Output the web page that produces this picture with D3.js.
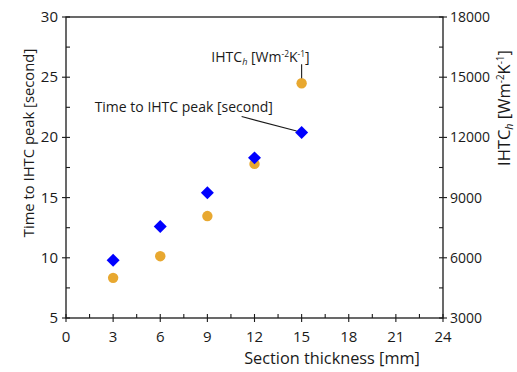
<!DOCTYPE html>
<html><head><meta charset="utf-8">
<script src="https://cdn.jsdelivr.net/npm/d3@7"></script>
<style>body{margin:0;background:#fff}svg{display:block}text{font-family:"Open Sans",sans-serif;fill:#1a1a1a}</style>
</head><body><svg id="c" width="517" height="372"></svg>
<script>
const thickness = [3, 6, 9, 12, 15];
const timeToPeak = [9.8, 12.6, 15.4, 18.3, 20.4];
const ihtcPeak = [5000, 6080, 8080, 10680, 14700];
const xTicks = [0, 3, 6, 9, 12, 15, 18, 21, 24];
const yLeftTicks = [5, 10, 15, 20, 25, 30];
const yRightTicks = [3000, 6000, 9000, 12000, 15000, 18000];

const svg = d3.select("#c");
const L = 66, R = 443, T = 17, B = 318;
const x = d3.scaleLinear().domain([0, 24]).range([L, R]);
const yL = d3.scaleLinear().domain([5, 30]).range([B, T]);
const yR = d3.scaleLinear().domain([3000, 18000]).range([B, T]);
const ink = "#1a1a1a";

// frame
svg.append("rect").attr("x", L).attr("y", T).attr("width", R - L).attr("height", B - T)
  .attr("fill", "none").attr("stroke", ink).attr("stroke-width", 1.3);

const g = svg.append("g").attr("stroke", ink).attr("stroke-width", 1.1);
// bottom ticks
xTicks.forEach(v => g.append("line").attr("x1", x(v)).attr("x2", x(v)).attr("y1", B - 4).attr("y2", B + 4));
d3.range(1.5, 24, 3).forEach(v => g.append("line").attr("x1", x(v)).attr("x2", x(v)).attr("y1", B - 4).attr("y2", B));
// left ticks
yLeftTicks.forEach(v => g.append("line").attr("x1", L - 4).attr("x2", L + 4).attr("y1", yL(v)).attr("y2", yL(v)));
d3.range(7.5, 30, 5).forEach(v => g.append("line").attr("x1", L).attr("x2", L + 4).attr("y1", yL(v)).attr("y2", yL(v)));
// right ticks
yRightTicks.forEach(v => g.append("line").attr("x1", R - 4).attr("x2", R + 4).attr("y1", yR(v)).attr("y2", yR(v)));
d3.range(4500, 18000, 3000).forEach(v => g.append("line").attr("x1", R - 4).attr("x2", R).attr("y1", yR(v)).attr("y2", yR(v)));

// tick labels
svg.append("g").selectAll("text").data(xTicks).join("text")
  .attr("x", d => x(d)).attr("y", B + 24).attr("text-anchor", "middle").attr("font-size", 15).text(d => d);
svg.append("g").selectAll("text").data(yLeftTicks).join("text")
  .attr("x", L - 8).attr("y", d => yL(d) + 5).attr("text-anchor", "end").attr("font-size", 15).text(d => d);
svg.append("g").selectAll("text").data(yRightTicks).join("text")
  .attr("x", R + 7).attr("y", d => yR(d) + 5).attr("text-anchor", "start").attr("font-size", 14).text(d => d);

// axis titles
svg.append("text").attr("x", 332).attr("y", 364).attr("text-anchor", "middle").attr("font-size", 16.3)
  .text("Section thickness [mm]");
svg.append("text").attr("transform", "translate(34,143) rotate(-90)").attr("text-anchor", "middle")
  .attr("font-size", 14.8).text("Time to IHTC peak [second]");

function ihtcLabel(sel, fs) {
  sel.append("tspan").text("IHTC");
  sel.append("tspan").attr("font-style", "italic").attr("font-size", fs * 0.65).attr("dy", fs * 0.2).text("h");
  sel.append("tspan").attr("dy", -fs * 0.2).text(" [Wm");
  sel.append("tspan").attr("font-size", fs * 0.6).attr("dy", -fs * 0.38).text("-2");
  sel.append("tspan").attr("dy", fs * 0.38).text("K");
  sel.append("tspan").attr("font-size", fs * 0.6).attr("dy", -fs * 0.38).text("-1");
  sel.append("tspan").attr("dy", fs * 0.38).text("]");
}
const rt = svg.append("text").attr("transform", "translate(510,108) rotate(-90)").attr("text-anchor", "middle").attr("font-size", 16.5);
ihtcLabel(rt, 16.5);

// data: circles (right axis)
svg.append("g").selectAll("circle").data(thickness).join("circle")
  .attr("cx", d => x(d)).attr("cy", (d, i) => yR(ihtcPeak[i])).attr("r", 5.2).attr("fill", "#e8a830");
// diamonds (left axis)
const sq = d3.symbol().type(d3.symbolSquare).size(84);
svg.append("g").selectAll("path").data(thickness).join("path")
  .attr("d", sq).attr("fill", "#0000ff")
  .attr("transform", (d, i) => `translate(${x(d)},${yL(timeToPeak[i])}) rotate(45)`);

// annotations
const last = thickness.length - 1;
const cx = x(thickness[last]), cyC = yR(ihtcPeak[last]), cyD = yL(timeToPeak[last]);
svg.append("line").attr("x1", cx).attr("x2", cx).attr("y1", cyC - 19).attr("y2", cyC - 5)
  .attr("stroke", ink).attr("stroke-width", 1.1);
const at = svg.append("text").attr("x", cx + 8).attr("y", cyC - 21).attr("text-anchor", "end").attr("font-size", 14);
ihtcLabel(at, 14);
svg.append("line").attr("x1", cx - 60).attr("x2", cx - 5).attr("y1", cyD - 16).attr("y2", cyD - 1.5)
  .attr("stroke", ink).attr("stroke-width", 1.1);
svg.append("text").attr("x", cx - 207).attr("y", cyD - 21).attr("font-size", 14).text("Time to IHTC peak [second]");
</script></body></html>
